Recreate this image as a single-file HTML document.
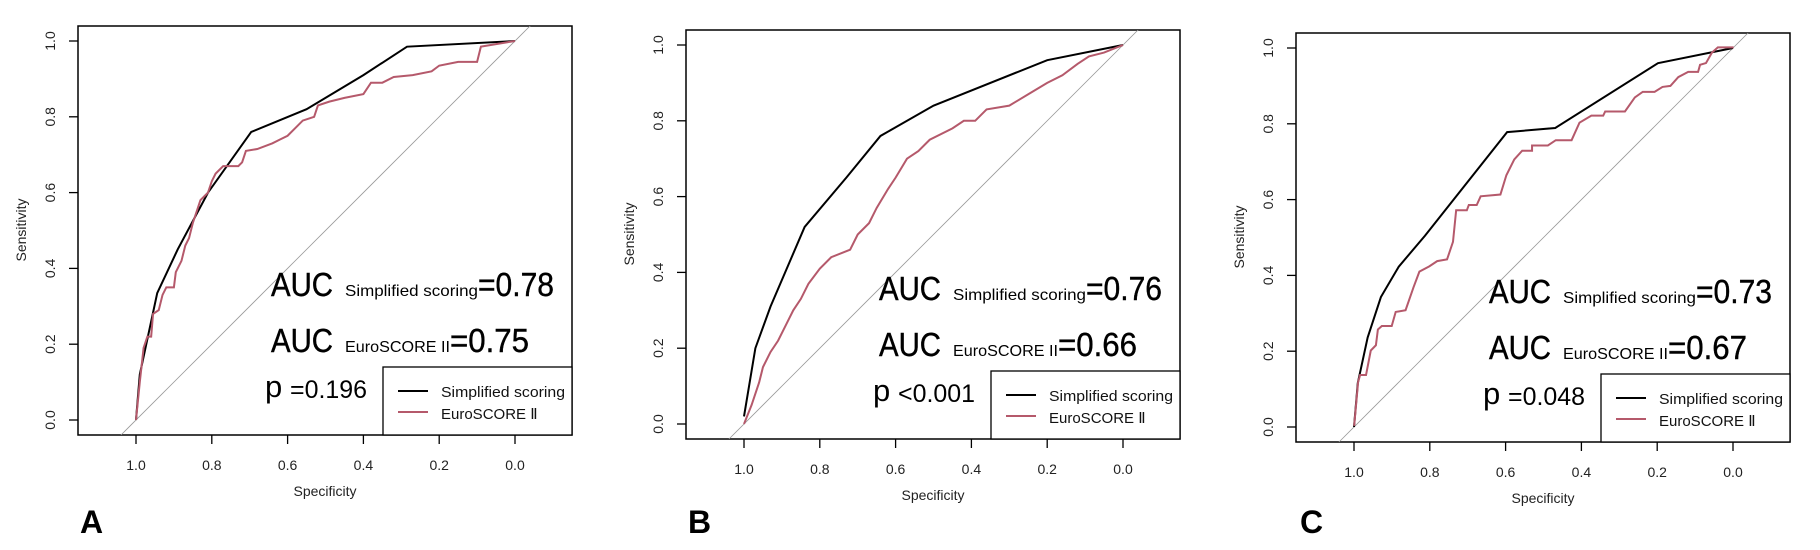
<!DOCTYPE html>
<html><head><meta charset="utf-8"><style>
html,body{margin:0;padding:0;background:#fff}
svg{display:block}
text{font-family:"Liberation Sans",Arial,sans-serif}
</style></head><body>
<svg width="1820" height="550" viewBox="0 0 1820 550" xmlns="http://www.w3.org/2000/svg">
<defs>
<clipPath id="cb"><rect x="-58" y="-15" width="494" height="409"/></clipPath>
<g id="axes">
  <rect x="-58" y="-15" width="494" height="409" fill="none" stroke="#000" stroke-width="1.5"/>
  <g stroke="#000" stroke-width="1.3">
    <line x1="-58" x2="-67" y1="0" y2="0"/><line x1="-58" x2="-67" y1="75.8" y2="75.8"/>
    <line x1="-58" x2="-67" y1="151.6" y2="151.6"/><line x1="-58" x2="-67" y1="227.4" y2="227.4"/>
    <line x1="-58" x2="-67" y1="303.2" y2="303.2"/><line x1="-58" x2="-67" y1="379" y2="379"/>
    <line y1="394" y2="403" x1="0" x2="0"/><line y1="394" y2="403" x1="75.8" x2="75.8"/>
    <line y1="394" y2="403" x1="151.6" x2="151.6"/><line y1="394" y2="403" x1="227.4" x2="227.4"/>
    <line y1="394" y2="403" x1="303.2" x2="303.2"/><line y1="394" y2="403" x1="379" x2="379"/>
  </g>
  <g font-size="14" fill="#222" text-anchor="middle">
    <text transform="translate(-81,0) rotate(-90)" y="0">1.0</text>
    <text transform="translate(-81,75.8) rotate(-90)" y="0">0.8</text>
    <text transform="translate(-81,151.6) rotate(-90)" y="0">0.6</text>
    <text transform="translate(-81,227.4) rotate(-90)" y="0">0.4</text>
    <text transform="translate(-81,303.2) rotate(-90)" y="0">0.2</text>
    <text transform="translate(-81,379) rotate(-90)" y="0">0.0</text>
    <text x="0" y="429">1.0</text><text x="75.8" y="429">0.8</text><text x="151.6" y="429">0.6</text>
    <text x="227.4" y="429">0.4</text><text x="303.2" y="429">0.2</text><text x="379" y="429">0.0</text>
    <text x="189" y="455">Specificity</text>
    <text transform="translate(-110,189) rotate(-90)">Sensitivity</text>
  </g>
  <line clip-path="url(#cb)" x1="-15" y1="394" x2="400" y2="-21" stroke="#999" stroke-width="0.8"/>
  <rect x="247" y="326" width="189" height="68" fill="#fff" stroke="#000" stroke-width="1.3"/>
  <line x1="262" x2="292" y1="350" y2="350" stroke="#000" stroke-width="2"/>
  <line x1="262" x2="292" y1="371" y2="371" stroke="#b5596b" stroke-width="2"/>
  <text x="305" y="356" font-size="15" textLength="124" lengthAdjust="spacingAndGlyphs" fill="#111">Simplified scoring</text>
  <text x="305" y="378" font-size="15" fill="#111">EuroSCORE Ⅱ</text>
  <g stroke="#000" stroke-width="0.4">
  <text x="135" y="255" font-size="33" textLength="62" lengthAdjust="spacingAndGlyphs">AUC</text>
  <text x="135" y="311" font-size="33" textLength="62" lengthAdjust="spacingAndGlyphs">AUC</text>
  </g>
  <text x="129" y="356" font-size="31">p</text>
  <text x="209" y="255" font-size="16" textLength="133" lengthAdjust="spacingAndGlyphs">Simplified scoring</text>
  <text x="209" y="311" font-size="16" textLength="105" lengthAdjust="spacingAndGlyphs">EuroSCORE II</text>
</g>
</defs>

<!-- Panel A -->
<g transform="translate(136,41)">
  <use href="#axes"/>
  <g stroke="#000" stroke-width="0.4">
  <text x="342" y="255" font-size="33" textLength="76" lengthAdjust="spacingAndGlyphs">=0.78</text>
  <text x="314" y="311" font-size="33" textLength="79" lengthAdjust="spacingAndGlyphs">=0.75</text>
  </g>
  <text x="154" y="357" font-size="25" textLength="77" lengthAdjust="spacingAndGlyphs">=0.196</text>
  <text x="-56" y="492" font-size="32" font-weight="bold">A</text>
  <g transform="matrix(-379,0,0,-379,379,379)" fill="none">
    <polyline vector-effect="non-scaling-stroke" stroke="#000" stroke-width="2" points="1,0 0.99,0.12 0.944,0.335 0.89,0.45 0.81,0.6 0.696,0.76 0.55,0.82 0.4,0.91 0.285,0.985 0,1"/>
    <polyline vector-effect="non-scaling-stroke" stroke="#b5596b" stroke-width="2" points="1,0 0.99,0.1 0.98,0.19 0.97,0.22 0.96,0.22 0.955,0.28 0.94,0.29 0.93,0.33 0.92,0.35 0.9,0.35 0.895,0.39 0.88,0.42 0.87,0.46 0.86,0.48 0.85,0.52 0.84,0.55 0.83,0.58 0.82,0.59 0.81,0.6 0.8,0.63 0.79,0.65 0.78,0.66 0.77,0.67 0.73,0.67 0.72,0.68 0.71,0.71 0.68,0.715 0.64,0.73 0.62,0.74 0.6,0.75 0.58,0.77 0.56,0.79 0.53,0.8 0.52,0.83 0.49,0.84 0.45,0.85 0.4,0.86 0.38,0.89 0.35,0.89 0.32,0.905 0.27,0.91 0.22,0.92 0.2,0.935 0.15,0.945 0.1,0.945 0.09,0.985 0.03,0.995 0,1"/>
  </g>
</g>

<!-- Panel B -->
<g transform="translate(744,45)">
  <use href="#axes"/>
  <g stroke="#000" stroke-width="0.4">
  <text x="342" y="255" font-size="33" textLength="76" lengthAdjust="spacingAndGlyphs">=0.76</text>
  <text x="314" y="311" font-size="33" textLength="79" lengthAdjust="spacingAndGlyphs">=0.66</text>
  </g>
  <text x="154" y="357" font-size="25" textLength="77" lengthAdjust="spacingAndGlyphs">&lt;0.001</text>
  <text x="-56" y="488" font-size="32" font-weight="bold">B</text>
  <g transform="matrix(-379,0,0,-379,379,379)" fill="none">
    <polyline vector-effect="non-scaling-stroke" stroke="#000" stroke-width="2" points="1,0.02 0.97,0.2 0.93,0.31 0.84,0.52 0.73,0.65 0.64,0.76 0.5,0.84 0.2,0.96 0,1"/>
    <polyline vector-effect="non-scaling-stroke" stroke="#b5596b" stroke-width="2" points="1,0 0.98,0.05 0.96,0.11 0.95,0.15 0.93,0.19 0.91,0.22 0.89,0.26 0.87,0.3 0.85,0.33 0.83,0.37 0.8,0.41 0.77,0.44 0.72,0.46 0.7,0.5 0.67,0.53 0.65,0.57 0.62,0.62 0.6,0.65 0.57,0.7 0.54,0.72 0.51,0.75 0.45,0.78 0.42,0.8 0.39,0.8 0.36,0.83 0.3,0.84 0.25,0.87 0.2,0.9 0.16,0.92 0.12,0.95 0.09,0.97 0.05,0.98 0,1"/>
  </g>
</g>

<!-- Panel C -->
<g transform="translate(1354,48)">
  <use href="#axes"/>
  <g stroke="#000" stroke-width="0.4">
  <text x="342" y="255" font-size="33" textLength="76" lengthAdjust="spacingAndGlyphs">=0.73</text>
  <text x="314" y="311" font-size="33" textLength="79" lengthAdjust="spacingAndGlyphs">=0.67</text>
  </g>
  <text x="154" y="357" font-size="25" textLength="77" lengthAdjust="spacingAndGlyphs">=0.048</text>
  <text x="-54" y="485" font-size="32" font-weight="bold">C</text>
  <g transform="matrix(-379,0,0,-379,379,379)" fill="none">
    <polyline vector-effect="non-scaling-stroke" stroke="#000" stroke-width="2" points="1,0 0.99,0.116 0.964,0.236 0.929,0.343 0.882,0.423 0.8125,0.505 0.596,0.778 0.469,0.789 0.198,0.96 0,1"/>
  </g>
</g>
<g transform="translate(1200,0) scale(0.3953,0.3505)" fill="none">
  <polyline vector-effect="non-scaling-stroke" stroke="#b5596b" stroke-width="2" points="390,1215 400,1090 405,1070 420,1070 432,1000 445,985 450,940 460,930 485,930 495,890 520,885 540,820 555,775 580,760 600,745 625,740 640,690 648,600 675,600 680,585 700,585 710,560 760,555 775,500 795,455 815,430 840,430 840,415 880,415 900,400 940,400 960,350 990,330 1020,330 1025,318 1075,318 1100,278 1120,262 1150,262 1170,248 1190,245 1210,220 1235,205 1260,205 1265,185 1280,180 1295,150 1310,135 1350,135"/>
</g>
</svg>
</body></html>
